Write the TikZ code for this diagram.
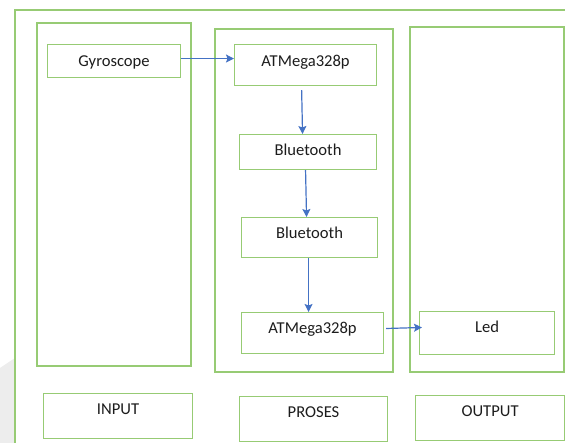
\documentclass[tikz,border=0pt]{standalone}
\usepackage{fontspec}
\setmainfont{Carlito}
\usepackage{tikz}
\usetikzlibrary{arrows.meta,positioning}

\definecolor{boxgreen}{HTML}{97CB74}
\definecolor{flowblue}{HTML}{4472C4}
\definecolor{inkgray}{HTML}{1C1C1C}

\tikzset{
    zone/.style={draw=boxgreen,line width=1.1pt},
    part/.style={draw=boxgreen,line width=1.1pt,anchor=north west,inner sep=0pt,
        text=inkgray,font=\fontsize{16.6}{19}\selectfont,text height=10pt,text depth=#1},
    part/.default=0pt,
    flow/.style={draw=flowblue,line width=1.2pt,-{Stealth[length=8pt,width=8pt,inset=1.5pt]}}
}

\begin{document}
\begin{tikzpicture}[x=1pt,y=-1pt]
    \useasboundingbox (0,0) rectangle (565,443);
    \fill[gray!14] (0,368) -- (15,358) -- (15,443) -- (0,443) -- cycle;

    % outer frame and the three columns
    \draw[zone] (565,10) -- (15,10) -- (15,443);
    \draw[zone] (37,23) rectangle (191,366);
    \draw[zone] (215,29) rectangle (393,372);
    \draw[zone] (410,27) rectangle (564,372);

    % blocks
    \node[part] (gyro) at (47,44) [minimum width=133pt,minimum height=33pt] {Gyroscope};
    \node[part=7pt] (atmA) at (234,44) [minimum width=142pt,minimum height=41pt] {ATMega328p};
    \node[part=3pt] (btA) at (239,134) [minimum width=137pt,minimum height=35pt] {Bluetooth};
    \node[part=8pt] (btB) at (241,217) [minimum width=136pt,minimum height=40pt] {Bluetooth};
    \node[part=9pt] (atmB) at (241,312) [minimum width=142pt,minimum height=41pt] {ATMega328p};
    \node[part=11pt] (led) at (419,311) [minimum width=135pt,minimum height=43pt] {Led};

    % captions
    \node[part=13pt] (input) at (43,393) [minimum width=149pt,minimum height=45pt] {INPUT};
    \node[part=13pt] (proses) at (239,396) [minimum width=148pt,minimum height=45pt] {PROSES};
    \node[part=13pt] (output) at (415,395) [minimum width=149pt,minimum height=45pt] {OUTPUT};

    % connections
    \draw[flow] ([yshift=2.5pt]gyro.east) -- ([yshift=6.5pt]atmA.west);
    \draw[flow,shorten <=4pt] ([xshift=-4pt]atmA.south) -- ([xshift=-5.5pt]btA.north);
    \draw[flow] ([xshift=-2.5pt]btA.south) -- ([xshift=-3pt]btB.north);
    \draw[flow] ([xshift=-1pt]btB.south) -- ([xshift=-4pt]atmB.north);
    \draw[flow,shorten <=2pt,shorten >=-3pt] ([yshift=4.5pt]atmB.east) -- ([yshift=5.5pt]led.west);
\end{tikzpicture}
\end{document}
